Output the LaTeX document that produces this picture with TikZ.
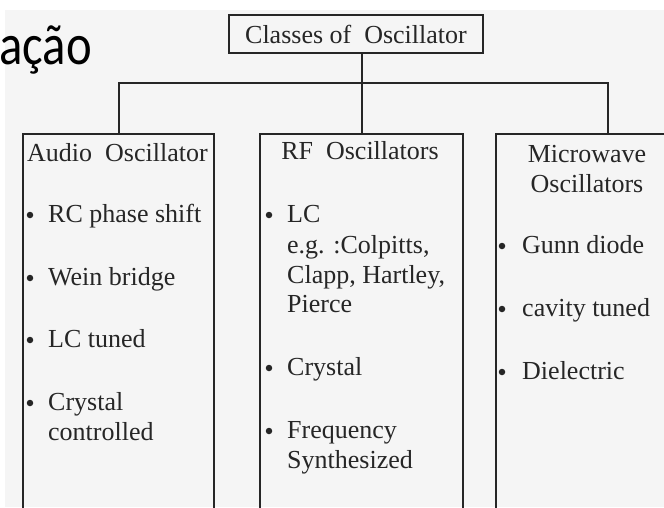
\documentclass[tikz,border=0pt]{standalone}
\usepackage{fontspec}
\setmainfont{Liberation Serif}
\newfontfamily\slidefont{Carlito}
\definecolor{scanbg}{RGB}{245,245,245}
\definecolor{ink}{RGB}{38,38,38}
\tikzset{
  box/.style={draw=ink, line width=2pt, inner sep=0pt, anchor=north west},
  conn/.style={draw=ink, line width=2pt},
  txt/.style={text=ink, font=\fontsize{26}{30}\selectfont, inner sep=0pt, anchor=base west},
  ctxt/.style={txt, anchor=base},
  dot/.style={circle, fill=ink, inner sep=0pt, minimum size=6.5pt},
}
\begin{document}
\begin{tikzpicture}[x=1pt,y=-1pt]
\useasboundingbox (0,0) rectangle (664,507);
\fill[white] (0,0) rectangle (664,507);
\fill[scanbg] (5,10) rectangle (664,507);
\clip (0,0) rectangle (664,507);

% slide title fragment
\node[anchor=base west, font=\slidefont\fontsize{58}{62}\selectfont, text=black, inner sep=0pt, xscale=0.84] (slidetitle) at (-1,64) {ação};

% boxes
\node[box, minimum width=254pt, minimum height=38pt, font=\fontsize{26}{30}\selectfont, text=ink, anchor=center] (top) at (356,34) {Classes of\ \ Oscillator\hspace{12pt}};
\node[box, minimum width=191pt, minimum height=420pt] (audio) at (22,133) {};
\node[box, minimum width=203pt, minimum height=420pt] (rf) at (259,133) {};
\node[box, minimum width=224pt, minimum height=420pt] (micro) at (495,133) {};

% connectors
\draw[conn] (audio.north) -- ++(0,-50) -| (micro.north);
\draw[conn] (rf.north) -- (rf.north |- top.south);

% Audio column
\node[txt] (ah) at (27,161) {Audio\ \ Oscillator};
\node[dot] (ab1) at (30,215) {};
\node[txt] (a1) at (48,222) {RC phase shift};
\node[dot] (ab2) at (30,278) {};
\node[txt] (a2) at (48,285) {Wein bridge};
\node[dot] (ab3) at (30,340) {};
\node[txt] (a3) at (48,347) {LC tuned};
\node[dot] (ab4) at (30,403) {};
\node[txt] (a4) at (48,410) {Crystal};
\node[txt] (a4b) at (48,440) {controlled};

% RF column
\node[ctxt] (rh) at (360,159) {RF\ \ Oscillators};
\node[dot] (rb1) at (269,215) {};
\node[txt] (r1) at (287,222) {LC};
\node[txt] (r1b) at (287,253) {e.g. :Colpitts,};
\node[txt] (r1c) at (287,283) {Clapp, Hartley,};
\node[txt] (r1d) at (287,312) {Pierce};
\node[dot] (rb2) at (269,368) {};
\node[txt] (r2) at (287,375) {Crystal};
\node[dot] (rb3) at (269,431) {};
\node[txt] (r3) at (287,438) {Frequency};
\node[txt] (r3b) at (287,468) {Synthesized};

% Microwave column
\node[ctxt] (mh) at (587,162) {Microwave};
\node[ctxt] (mh2) at (587,192) {Oscillators};
\node[dot] (mb1) at (502,246) {};
\node[txt] (m1) at (522,253) {Gunn diode};
\node[dot] (mb2) at (502,309) {};
\node[txt] (m2) at (522,316) {cavity tuned};
\node[dot] (mb3) at (502,372) {};
\node[txt] (m3) at (522,379) {Dielectric};
\end{tikzpicture}
\end{document}
